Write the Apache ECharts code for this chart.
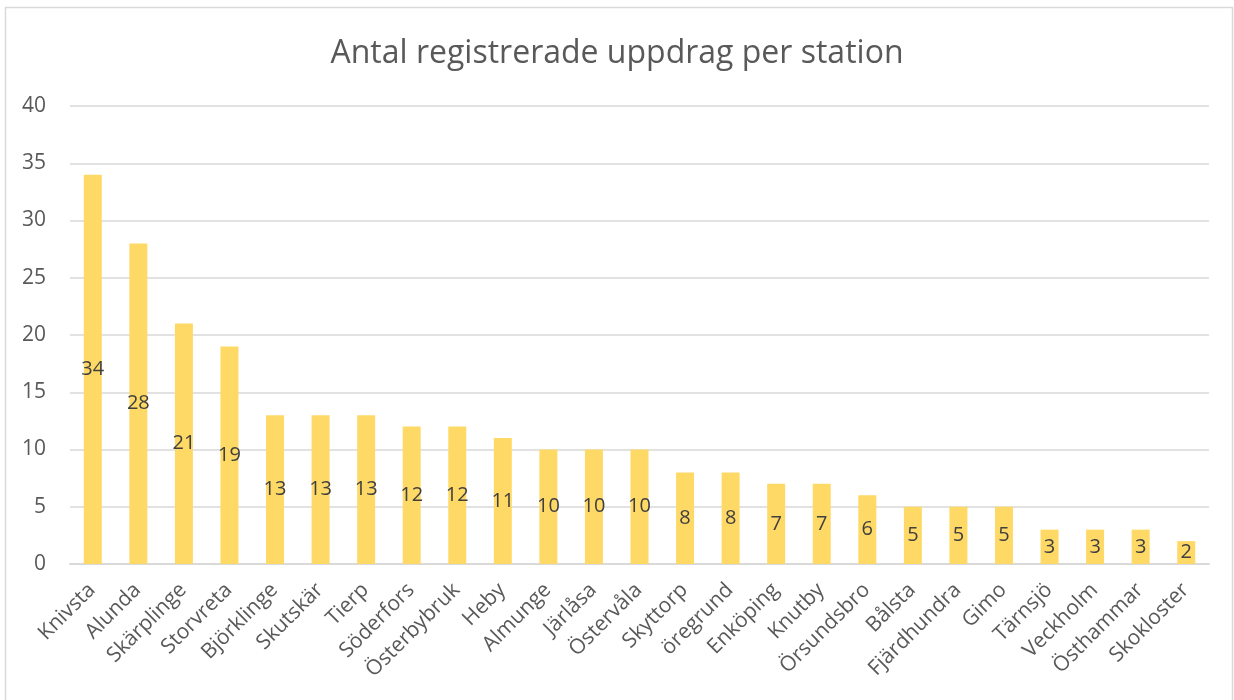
<!doctype html>
<html>
<head>
    <meta http-equiv="Content-Type" content="text/html; charset=utf-8">
    <title>Antal registrerade uppdrag per station</title>
    <script src="https://cdn.jsdelivr.net/npm/echarts@6/dist/echarts.min.js"></script>
    <style>
        html, body { margin: 0; padding: 0; background: #fff; }
        #chart { width: 1234px; height: 700px; }
    </style>
</head>
<body>
<div id="chart"></div>
<script type="text/javascript">
    var stations = ['Knivsta', 'Alunda', 'Skärplinge', 'Storvreta', 'Björklinge', 'Skutskär', 'Tierp',
        'Söderfors', 'Österbybruk', 'Heby', 'Almunge', 'Järlåsa', 'Östervåla', 'Skyttorp', 'öregrund',
        'Enköping', 'Knutby', 'Örsundsbro', 'Bålsta', 'Fjärdhundra', 'Gimo', 'Tärnsjö', 'Veckholm',
        'Östhammar', 'Skokloster'];
    var uppdrag = [34, 28, 21, 19, 13, 13, 13, 12, 12, 11, 10, 10, 10, 8, 8, 7, 7, 6, 5, 5, 5, 3, 3, 3, 2];
    var yTicks = [0, 5, 10, 15, 20, 25, 30, 35, 40];

    var font = '"Open Sans", "Noto Sans", sans-serif';
    var myChart = echarts.init(document.getElementById('chart'));
    var option = {
        animation: false,
        backgroundColor: '#fff',
        title: {
            text: 'Antal registrerade uppdrag per station',
            left: 'center',
            top: 33,
            textStyle: { fontFamily: font, fontSize: 32, fontWeight: 'normal', color: '#595959' }
        },
        // ram runt diagrammet
        graphic: [{
            type: 'rect',
            shape: { x: 5.5, y: 7.5, width: 1227, height: 700 },
            style: { fill: 'none', stroke: '#d9d9d9', lineWidth: 1.5 },
            silent: true
        }],
        grid: { left: 70, right: 25, top: 106, bottom: 136 },
        xAxis: {
            type: 'category',
            data: stations,
            axisLine: { lineStyle: { color: '#d9d9d9', width: 2 } },
            axisTick: { show: false },
            axisLabel: {
                rotate: 45,
                interval: 0,
                margin: 22,
                padding: [16, 1, 0, 0],
                fontFamily: font,
                fontSize: 21,
                color: '#595959'
            }
        },
        yAxis: {
            type: 'value',
            min: yTicks[0],
            max: yTicks[yTicks.length - 1],
            interval: 5,
            axisLine: { show: false },
            axisTick: { show: false },
            splitLine: { lineStyle: { color: '#d9d9d9', width: 1.5 } },
            axisLabel: { margin: 24, fontFamily: font, fontSize: 21, color: '#595959' }
        },
        series: [{
            type: 'bar',
            data: uppdrag,
            barWidth: 18,
            itemStyle: { color: '#ffd966' },
            label: {
                show: true,
                position: 'inside',
                fontFamily: font,
                fontSize: 20,
                color: '#404040'
            }
        }]
    };
    myChart.setOption(option);
</script>
</body>
</html>
